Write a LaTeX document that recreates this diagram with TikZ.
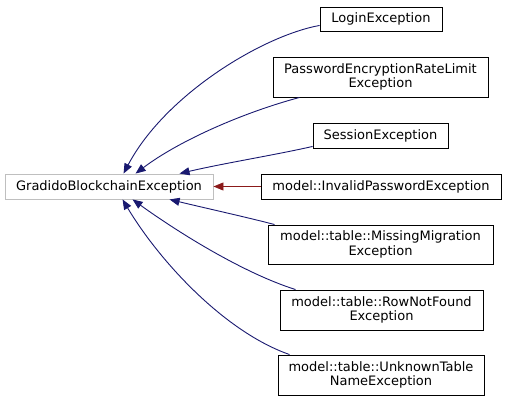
\documentclass[tikz,border=0pt]{standalone}
\usepackage{fontspec}
\setmainfont{DejaVu Sans}
\usetikzlibrary{arrows.meta,calc}
\definecolor{edgeblue}{HTML}{191970}
\definecolor{edgered}{HTML}{8B1A1A}
\definecolor{rootgray}{HTML}{BFBFBF}
\tikzset{
  cls/.style={draw=black, line width=0.9pt, fill=white, inner sep=0pt, align=center,
    font=\fontsize{13}{14.6}\selectfont},
  rootcls/.style={cls, draw=rootgray},
  inh/.style={draw=edgeblue, line width=0.9pt, -{Triangle[length=10pt,width=8pt]}, fill=none},
  inhred/.style={draw=edgered, line width=0.9pt, -{Triangle[length=10pt,width=8pt,color=edgered]}},
}
\begin{document}
\begin{tikzpicture}[x=1pt,y=-1pt]
\useasboundingbox (0,0) rectangle (507,402);
\node[rootcls, minimum width=208pt, minimum height=25pt] (gbe) at (109,186.5) {GradidoBlockchainException};
\node[cls, minimum width=122pt, minimum height=24pt] (login) at (381,19) {LoginException};
\node[cls, minimum width=215pt, minimum height=40pt] (pwd) at (380.5,77) {PasswordEncryptionRateLimit\\Exception};
\node[cls, minimum width=135pt, minimum height=25pt] (sess) at (380.5,135.5) {SessionException};
\node[cls, minimum width=240pt, minimum height=25pt] (inv) at (381,186.5) {model::InvalidPasswordException};
\node[cls, minimum width=225pt, minimum height=39pt] (miss) at (380.5,244.5) {model::table::MissingMigration\\Exception};
\node[cls, minimum width=203pt, minimum height=40pt] (row) at (381.5,310) {model::table::RowNotFound\\Exception};
\node[cls, minimum width=206pt, minimum height=40pt] (unk) at (381,375) {model::table::UnknownTable\\NameException};

\draw[inh] ($(login.south west)+(0,-6)$) .. controls (262,36) and (165,95) .. ($(gbe.north west)+(119,0)$);
\draw[inh] ($(pwd.south west)+(27,0)$) .. controls (245,112) and (180,140) .. ($(gbe.north west)+(131,0)$);
\draw[inh] ($(sess.south west)+(0,-2)$) .. controls (275,155) and (225,163) .. ($(gbe.north west)+(175,0)$);
\draw[inhred] (inv.west) -- (gbe.east);
\draw[inh] ($(miss.north west)+(7,0)$) .. controls (250,218) and (205,208) .. ($(gbe.south west)+(165,0)$);
\draw[inh] ($(row.north west)+(16,0)$) .. controls (240,272) and (172,228) .. ($(gbe.south west)+(128,0)$);
\draw[inh] ($(unk.north west)+(12,0)$) .. controls (225,332) and (160,262) .. ($(gbe.south west)+(118,0)$);
\end{tikzpicture}
\end{document}
